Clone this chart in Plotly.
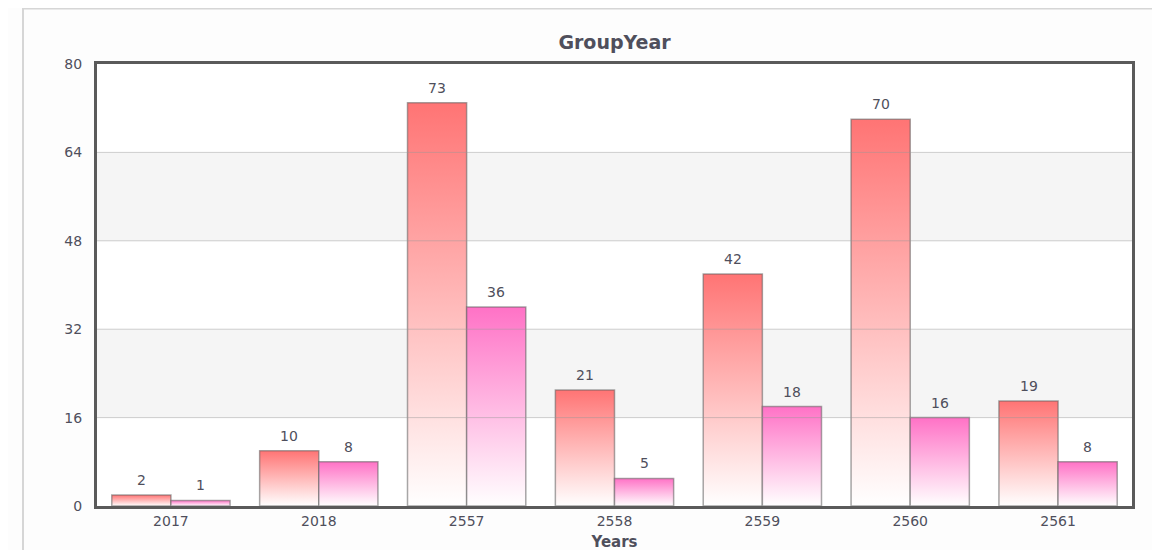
import plotly.graph_objects as go

# --- DATA ---
years = ['2017', '2018', '2557', '2558', '2559', '2560', '2561']
series_a = [2, 10, 73, 21, 42, 70, 19]
series_b = [1, 8, 36, 5, 18, 16, 8]
y_ticks = [0, 16, 32, 48, 64, 80]

# --- STYLE ---
FONT = 'DejaVu Sans'
TEXT_COLOR = '#4f4f5c'
BAR_W = 0.4
series_styles = [(series_a, '#ff7474', -BAR_W), (series_b, '#ff72c6', 0.0)]

fig = go.Figure()
annotations = []

# each bar is a filled polygon so it can carry a vertical gradient
for values, color, offset in series_styles:
    for i, v in enumerate(values):
        x0 = i + offset
        x1 = x0 + BAR_W
        fig.add_trace(go.Scatter(
            x=[x0, x0, x1, x1, x0], y=[0, v, v, 0, 0],
            mode='lines', fill='toself',
            fillgradient=dict(type='vertical', colorscale=[[0, '#ffffff'], [1, color]]),
            line=dict(color='rgba(95,95,95,0.55)', width=1.5),
            showlegend=False, hoverinfo='skip'))
        # value label above the bar
        annotations.append(dict(x=x0 + BAR_W / 2, y=v, xref='x', yref='y', text=str(v),
                                showarrow=False, yanchor='bottom', yshift=5,
                                font=dict(family=FONT, size=14, color=TEXT_COLOR)))

# alternating bands and gridlines
shapes = []
for lo, hi in [(16, 32), (48, 64)]:
    shapes.append(dict(type='rect', xref='paper', yref='y', x0=0, x1=1, y0=lo, y1=hi,
                       fillcolor='#f5f5f5', line=dict(width=0), layer='below'))
for t in y_ticks[1:-1]:
    shapes.append(dict(type='line', xref='paper', yref='y', x0=0, x1=1, y0=t, y1=t,
                       line=dict(color='rgba(150,150,150,0.45)', width=1), layer='above'))
# outer light border of the chart panel
shapes.append(dict(type='rect', xref='paper', yref='paper',
                   x0=-74 / 1035, x1=1.2, y0=-0.5, y1=497.5 / 442,
                   line=dict(color='#d6d6d6', width=2), fillcolor='rgba(0,0,0,0)', layer='below'))

fig.update_layout(
    width=1160, height=550,
    margin=dict(l=89, r=36, t=56, b=52),
    paper_bgcolor='#fdfdfd', plot_bgcolor='#ffffff',
    title=dict(text='<b>GroupYear</b>', x=(89 + 1035 / 2) / 1160, xanchor='center',
               y=1 - 34 / 550, yanchor='middle',
               font=dict(family=FONT, size=19, color=TEXT_COLOR)),
    shapes=shapes,
    annotations=annotations,
    font=dict(family=FONT, size=14, color=TEXT_COLOR),
)

fig.update_xaxes(
    range=[-0.5, 6.5], tickvals=list(range(len(years))), ticktext=years,
    showgrid=False, zeroline=False, showline=True, mirror=True,
    linecolor='#5a5a5a', linewidth=3, ticks='', automargin=False,
    tickfont=dict(family=FONT, size=14, color=TEXT_COLOR),
    title=dict(text='<b>Years</b>', standoff=9, font=dict(family=FONT, size=15, color=TEXT_COLOR)),
)
fig.update_yaxes(
    range=[0, 80], tickvals=y_ticks,
    showgrid=False, zeroline=False, showline=True, mirror=True,
    linecolor='#5a5a5a', linewidth=3, ticks='', automargin=False,
    ticklabelstandoff=9,
    tickfont=dict(family=FONT, size=14, color=TEXT_COLOR),
)

fig.write_html("out.html")
